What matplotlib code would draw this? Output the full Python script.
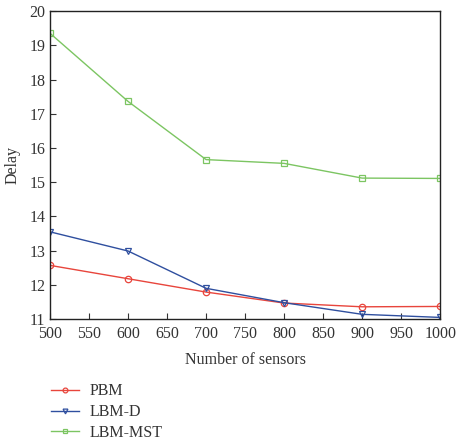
import matplotlib
matplotlib.use("Agg")
import matplotlib.pyplot as plt

plt.rcParams['font.family'] = ['Liberation Serif', 'DejaVu Serif']

sensors = [500, 600, 700, 800, 900, 1000]
pbm = [12.57, 12.18, 11.79, 11.47, 11.36, 11.37]
lbm_d = [13.55, 12.99, 11.90, 11.48, 11.14, 11.05]
lbm_mst = [19.35, 17.36, 15.66, 15.55, 15.12, 15.11]
xticks = [500, 550, 600, 650, 700, 750, 800, 850, 900, 950, 1000]
yticks = [11, 12, 13, 14, 15, 16, 17, 18, 19, 20]

fig = plt.figure(figsize=(4.59, 4.42), dpi=100)
ax = fig.add_axes([0.109, 0.278, 0.850, 0.697])

red = '#e8453c'
blue = '#2f4f9f'
green = '#7cc562'
ms = 4.6
ax.plot(sensors, pbm, color=red, lw=1, marker='o', ms=ms, mfc='none', mew=0.9, label='PBM')
ax.plot(sensors, lbm_d, color=blue, lw=1, marker='v', ms=ms, mfc='none', mew=0.9, label='LBM-D')
ax.plot(sensors, lbm_mst, color=green, lw=1, marker='s', ms=ms-0.6, mfc='none', mew=0.9, label='LBM-MST')

ax.set_xlim(500, 1000)
ax.set_ylim(11, 20)
ax.set_xticks(xticks)
ax.set_yticks(yticks)
ax.tick_params(direction='in', length=4, width=0.8, labelsize=11.5, colors='#333333', labelcolor='#333333')
ax.tick_params(axis='x', pad=5)
ax.tick_params(top=False, right=False)
for s in ax.spines.values():
    s.set_linewidth(1.0)
    s.set_color('#222222')
ax.set_xlabel('Number of sensors', fontsize=11.5, color='#333333', labelpad=7)
ax.set_ylabel('Delay', fontsize=11.5, color='#333333', labelpad=6)

fig.legend(loc='upper left', bbox_to_anchor=(0.08, 0.165), frameon=False, fontsize=11.5,
           handlelength=1.75, handletextpad=0.65, labelspacing=0.3, markerscale=0.75,
           labelcolor='#333333')

fig.savefig('out.png', dpi=100)
